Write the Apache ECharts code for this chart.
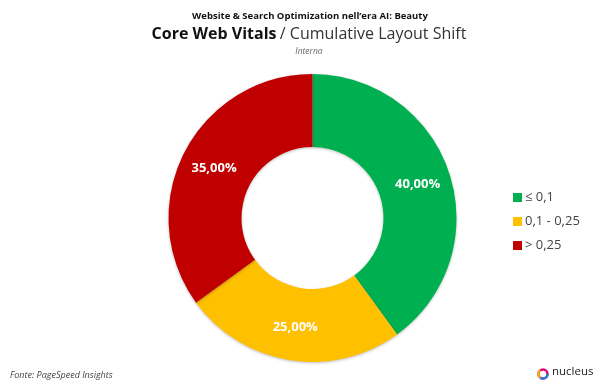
<!DOCTYPE html>
<html><head><meta charset="utf-8">
<script src="https://cdn.jsdelivr.net/npm/echarts@6/dist/echarts.min.js"></script>
<style>html,body{margin:0;padding:0;background:#fff}#c{width:600px;height:387px}</style>
</head><body><div id="c"></div>
<script>
const categories = ['≤ 0,1', '0,1 - 0,25', '> 0,25'];
const values = [40, 25, 35];
const colors = ['#00b050', '#ffc000', '#c00000'];

const chart = echarts.init(document.getElementById('c'));
const F = '"Open Sans", sans-serif';
chart.setOption({
  backgroundColor: '#fff',
  animation: false,
  title: [
    { text: 'Fonte: PageSpeed Insights', left: 5, top: 366,
      textStyle: { fontFamily: F, fontSize: 9, fontStyle: 'italic', fontWeight: 'normal', color: '#444' } }
  ],
  legend: {
    orient: 'vertical', left: 508, top: 186, itemGap: 11,
    itemWidth: 9, itemHeight: 9, icon: 'rect',
    data: categories,
    textStyle: { fontFamily: F, fontSize: 13, color: '#444', padding: [0,0,0,-2] }
  },
  graphic: [
    { type: 'text', x: 310, y: 16, style: { text: "Website & Search Optimization nell’era AI: Beauty",
      fontFamily: F, fontSize: 9.5, fontWeight: 'bold', fill: '#111', align: 'center', verticalAlign: 'middle' } },
    { type: 'text', x: 309, y: 34, style: { text: '{b|Core Web Vitals} {r|/ Cumulative Layout Shift}',
      align: 'center', verticalAlign: 'middle',
      rich: {
        b: { fontFamily: F, fontSize: 16, fontWeight: 'bold', fill: '#111', color: '#111' },
        r: { fontFamily: F, fontSize: 16, fontWeight: 'normal', fill: '#333', color: '#333' } } } },
    { type: 'text', x: 309, y: 52, style: { text: 'Interna', fontFamily: F, fontSize: 8.5, fontStyle: 'italic',
      fill: '#666', align: 'center', verticalAlign: 'middle' } },
    { type: 'arc', shape: { cx: 543, cy: 374, r: 4.5, startAngle: 0, endAngle: Math.PI * 2 },
      style: { stroke: '#e6007e', lineWidth: 2.5, fill: null } },
    { type: 'arc', shape: { cx: 543, cy: 374, r: 4.5, startAngle: 0, endAngle: Math.PI * 0.7 },
      style: { stroke: '#2a7de1', lineWidth: 2.5, fill: null } },
    { type: 'arc', shape: { cx: 543, cy: 374, r: 4.5, startAngle: Math.PI * 0.7, endAngle: Math.PI * 1.3 },
      style: { stroke: '#f5a623', lineWidth: 2.5, fill: null } },
    { type: 'text', x: 552, y: 366, style: { text: 'nucleus', fontFamily: F, fontSize: 11.5, fill: '#222' } }
  ],
  series: [{
    type: 'pie',
    center: [312.5, 218],
    radius: [71, 144],
    startAngle: 90,
    clockwise: true,
    label: {
      show: true, position: 'inside', color: '#fff', fontFamily: F, fontSize: 13, fontWeight: 'bold',
      formatter: p => p.value.toFixed(2).replace('.', ',') + '%'
    },
    labelLine: { show: false },
    emphasis: { disabled: true },
    itemStyle: { shadowBlur: 3, shadowColor: 'rgba(0,0,0,0.25)', shadowOffsetY: 1 },
    data: categories.map((c, i) => ({ name: c, value: values[i], itemStyle: { color: colors[i] } }))
  }]
});
</script></body></html>
